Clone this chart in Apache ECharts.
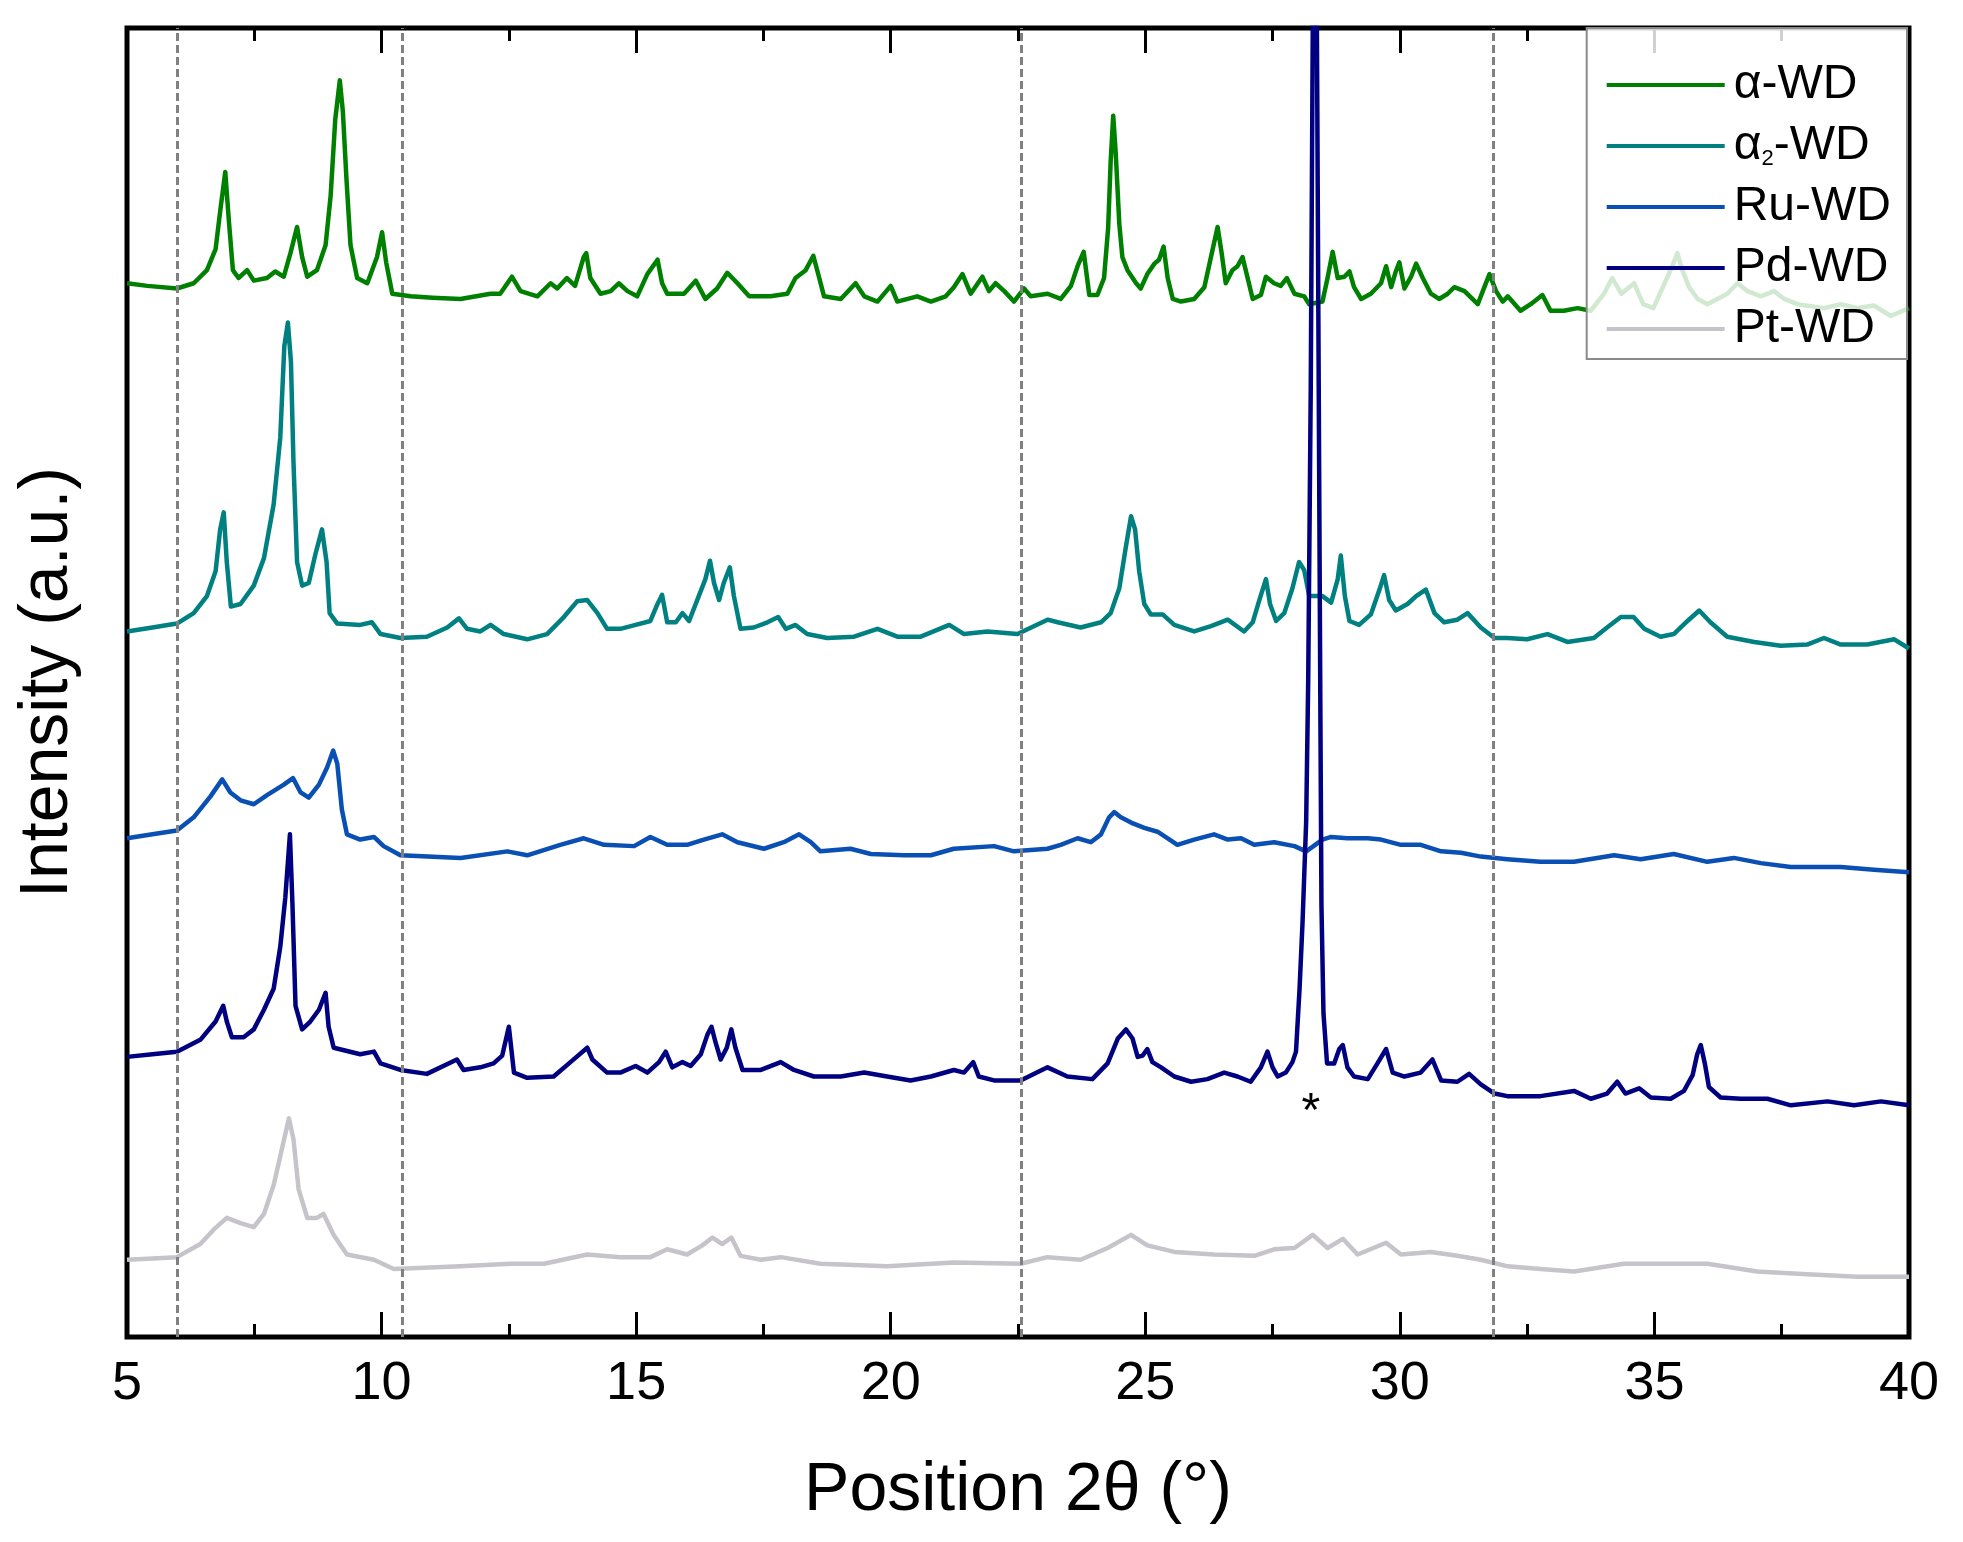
<!DOCTYPE html>
<html>
<head>
<meta charset="utf-8">
<title>XRD patterns</title>
<script src="https://cdn.jsdelivr.net/npm/echarts@6.0.0/dist/echarts.min.js"></script>
<style>
    html, body {margin: 0; padding: 0; background: #fff;}
    #chart {width: 1963px; height: 1542px;}
</style>
</head>
<body>
<div id="chart"></div>
<script>
// 2θ (deg), intensity in arbitrary units (stacked offsets, 0..100 = plot height)
var alphaWD = [
    [5.0, 80.5], [5.4, 80.3], [5.98, 80.1], [6.31, 80.5], [6.57, 81.5], [6.74, 83.1], [6.83, 86.0], [6.93, 89.0],
    [7.0, 85.3], [7.08, 81.5], [7.19, 80.9], [7.36, 81.5], [7.49, 80.7], [7.75, 80.9], [7.91, 81.4], [8.08, 81.0],
    [8.21, 82.8], [8.34, 84.8], [8.44, 82.5], [8.54, 81.0], [8.73, 81.5], [8.9, 83.4], [9.0, 87.2], [9.09, 93.0],
    [9.18, 96.0], [9.24, 93.6], [9.31, 88.5], [9.39, 83.4], [9.52, 80.9], [9.72, 80.5], [9.91, 82.5], [10.01, 84.4],
    [10.09, 82.1], [10.21, 79.7], [10.57, 79.5], [11.0, 79.4], [11.55, 79.3], [12.14, 79.7], [12.33, 79.7], [12.56, 81.0],
    [12.73, 79.9], [13.06, 79.5], [13.32, 80.5], [13.45, 80.1], [13.64, 80.9], [13.8, 80.3], [13.97, 82.5], [14.02, 82.8],
    [14.1, 80.9], [14.3, 79.7], [14.5, 79.9], [14.66, 80.5], [14.83, 79.9], [15.02, 79.5], [15.22, 81.2], [15.42, 82.3],
    [15.51, 80.5], [15.61, 79.7], [15.94, 79.7], [16.17, 80.7], [16.36, 79.3], [16.59, 80.1], [16.79, 81.3], [16.99, 80.5],
    [17.22, 79.5], [17.64, 79.5], [17.97, 79.7], [18.13, 80.9], [18.33, 81.5], [18.48, 82.6], [18.59, 81.0], [18.69, 79.5],
    [19.02, 79.3], [19.31, 80.5], [19.48, 79.5], [19.74, 79.1], [20.0, 80.3], [20.13, 79.1], [20.52, 79.5], [20.79, 79.1],
    [21.08, 79.5], [21.24, 80.2], [21.41, 81.2], [21.57, 79.7], [21.8, 81.0], [21.93, 79.9], [22.06, 80.5], [22.23, 79.9],
    [22.42, 79.1], [22.62, 80.1], [22.75, 79.5], [23.08, 79.7], [23.34, 79.3], [23.54, 80.3], [23.67, 81.8], [23.79, 82.9],
    [23.9, 79.6], [24.06, 79.6], [24.19, 80.9], [24.27, 84.7], [24.32, 89.8], [24.37, 93.3], [24.42, 90.4], [24.49, 85.0],
    [24.55, 82.5], [24.65, 81.5], [24.82, 80.5], [24.91, 80.1], [25.04, 81.2], [25.18, 82.0], [25.27, 82.3], [25.36, 83.3],
    [25.44, 80.9], [25.54, 79.3], [25.7, 79.1], [25.96, 79.3], [26.16, 80.2], [26.29, 82.5], [26.42, 84.8], [26.5, 82.8],
    [26.58, 80.5], [26.71, 81.5], [26.81, 81.8], [26.91, 82.5], [27.01, 80.9], [27.11, 79.3], [27.27, 79.6], [27.37, 81.0],
    [27.53, 80.5], [27.66, 80.3], [27.78, 80.9], [27.93, 79.7], [28.12, 79.5], [28.22, 78.9], [28.48, 79.1], [28.58, 80.9],
    [28.68, 82.9], [28.78, 80.9], [28.91, 81.0], [29.01, 81.4], [29.1, 80.2], [29.24, 79.3], [29.43, 79.7], [29.63, 80.5],
    [29.73, 81.8], [29.83, 80.2], [29.92, 81.4], [29.99, 82.1], [30.09, 80.1], [30.22, 81.0], [30.32, 82.0], [30.45, 80.9],
    [30.61, 79.7], [30.77, 79.3], [30.94, 79.7], [31.07, 80.2], [31.27, 79.9], [31.53, 78.9], [31.66, 80.2], [31.76, 81.2],
    [31.89, 79.9], [32.02, 79.1], [32.12, 79.5], [32.37, 78.4], [32.57, 78.9], [32.8, 79.6], [32.96, 78.4], [33.22, 78.4],
    [33.49, 78.6], [33.75, 78.4], [34.01, 79.7], [34.17, 80.9], [34.35, 79.7], [34.6, 80.5], [34.78, 78.9], [34.98, 78.6],
    [35.2, 80.5], [35.35, 81.8], [35.45, 82.8], [35.55, 81.5], [35.68, 80.2], [35.85, 79.3], [36.04, 78.9], [36.43, 79.7],
    [36.63, 80.5], [36.83, 79.9], [37.09, 79.5], [37.35, 79.9], [37.55, 79.3], [37.81, 78.9], [38.33, 78.6], [38.66, 78.9],
    [38.99, 78.6], [39.31, 78.8], [39.64, 78.0], [40.0, 78.6]
];

var alpha2WD = [
    [5.0, 53.9], [5.5, 54.2], [5.98, 54.5], [6.31, 55.3], [6.57, 56.6], [6.74, 58.5], [6.83, 61.7], [6.9, 63.0],
    [6.96, 59.2], [7.04, 55.8], [7.23, 56.0], [7.49, 57.4], [7.69, 59.5], [7.88, 63.6], [8.01, 68.7], [8.09, 75.7],
    [8.16, 77.5], [8.22, 74.5], [8.27, 66.8], [8.34, 59.2], [8.44, 57.4], [8.57, 57.6], [8.7, 59.8], [8.83, 61.7],
    [8.92, 59.2], [8.98, 55.3], [9.13, 54.5], [9.58, 54.4], [9.81, 54.6], [9.98, 53.7], [10.37, 53.4], [10.89, 53.5],
    [11.29, 54.2], [11.52, 54.9], [11.68, 54.1], [11.94, 53.9], [12.14, 54.4], [12.4, 53.7], [12.86, 53.3], [13.25, 53.7],
    [13.58, 55.0], [13.84, 56.2], [14.04, 56.3], [14.24, 55.3], [14.43, 54.1], [14.69, 54.1], [14.99, 54.4], [15.28, 54.7],
    [15.42, 56.0], [15.51, 56.7], [15.61, 54.6], [15.78, 54.6], [15.91, 55.3], [16.04, 54.7], [16.23, 56.6], [16.36, 57.9],
    [16.45, 59.3], [16.53, 57.6], [16.63, 56.3], [16.72, 57.6], [16.84, 58.8], [16.92, 56.6], [17.05, 54.1], [17.31, 54.2],
    [17.58, 54.6], [17.79, 55.0], [17.94, 54.1], [18.13, 54.4], [18.36, 53.7], [18.75, 53.4], [19.28, 53.5], [19.74, 54.1],
    [20.13, 53.5], [20.59, 53.5], [21.15, 54.4], [21.44, 53.7], [21.9, 53.9], [22.49, 53.7], [23.08, 54.8], [23.28, 54.6],
    [23.73, 54.2], [24.13, 54.6], [24.32, 55.3], [24.49, 57.2], [24.62, 60.4], [24.72, 62.7], [24.8, 61.7], [24.88, 58.5],
    [24.98, 56.0], [25.11, 55.2], [25.34, 55.2], [25.57, 54.4], [25.96, 53.9], [26.29, 54.3], [26.62, 54.8], [26.94, 53.9],
    [27.11, 54.6], [27.24, 56.3], [27.37, 57.9], [27.45, 56.0], [27.57, 54.7], [27.73, 55.3], [27.89, 57.2], [28.02, 59.2],
    [28.12, 58.6], [28.22, 56.6], [28.48, 56.6], [28.65, 56.1], [28.78, 57.9], [28.84, 59.7], [28.92, 56.6], [29.01, 54.7],
    [29.2, 54.4], [29.43, 55.2], [29.6, 57.1], [29.69, 58.2], [29.79, 56.3], [29.92, 55.5], [30.15, 56.0], [30.32, 56.6],
    [30.51, 57.1], [30.68, 55.3], [30.87, 54.6], [31.13, 54.8], [31.33, 55.3], [31.59, 54.2], [31.86, 53.4], [32.11, 53.4],
    [32.5, 53.3], [32.9, 53.7], [33.29, 53.1], [33.81, 53.4], [34.07, 54.2], [34.34, 55.0], [34.59, 55.0], [34.8, 54.1],
    [35.12, 53.5], [35.38, 53.7], [35.65, 54.7], [35.88, 55.5], [36.1, 54.6], [36.43, 53.5], [36.96, 53.1], [37.48, 52.8],
    [38.0, 52.9], [38.33, 53.4], [38.66, 52.9], [39.18, 52.9], [39.71, 53.3], [40.0, 52.6]
];

var ruWD = [
    [5.0, 38.1], [5.5, 38.4], [5.98, 38.7], [6.31, 39.7], [6.64, 41.3], [6.87, 42.6], [7.03, 41.6], [7.23, 41.0],
    [7.49, 40.7], [7.75, 41.4], [8.08, 42.2], [8.26, 42.7], [8.41, 41.6], [8.57, 41.2], [8.77, 42.2], [8.93, 43.5],
    [9.05, 44.8], [9.13, 43.8], [9.22, 40.3], [9.32, 38.4], [9.58, 38.0], [9.85, 38.2], [10.04, 37.5], [10.37, 36.8],
    [11.55, 36.6], [12.47, 37.1], [12.86, 36.8], [13.51, 37.6], [13.97, 38.1], [14.37, 37.6], [14.96, 37.5], [15.28, 38.2],
    [15.61, 37.6], [16.0, 37.6], [16.33, 38.0], [16.69, 38.4], [16.99, 37.8], [17.51, 37.3], [17.9, 37.8], [18.2, 38.4],
    [18.43, 37.8], [18.62, 37.1], [19.21, 37.3], [19.61, 36.9], [20.26, 36.8], [20.79, 36.8], [21.24, 37.3], [22.03, 37.5],
    [22.42, 37.1], [23.08, 37.3], [23.34, 37.6], [23.67, 38.1], [23.93, 37.8], [24.13, 38.4], [24.29, 39.7], [24.39, 40.1],
    [24.52, 39.7], [24.72, 39.3], [24.98, 38.9], [25.24, 38.6], [25.44, 38.1], [25.63, 37.6], [25.96, 38.0], [26.35, 38.4],
    [26.62, 38.0], [26.88, 38.1], [27.14, 37.6], [27.53, 37.8], [27.93, 37.5], [28.16, 37.1], [28.48, 38.0], [28.65, 38.2],
    [28.97, 38.1], [29.37, 38.1], [29.63, 38.0], [30.02, 37.6], [30.41, 37.6], [30.81, 37.1], [31.2, 37.0], [31.59, 36.7],
    [32.11, 36.5], [32.76, 36.3], [33.42, 36.3], [34.21, 36.8], [34.73, 36.5], [35.38, 36.9], [36.04, 36.3], [36.56, 36.6],
    [37.09, 36.2], [37.68, 35.9], [38.66, 35.9], [39.31, 35.7], [40.0, 35.5]
];

var pdWD = [
    [5.0, 21.4], [5.5, 21.6], [5.98, 21.8], [6.44, 22.7], [6.74, 24.1], [6.89, 25.3], [6.96, 24.1], [7.06, 22.9],
    [7.29, 22.9], [7.49, 23.5], [7.69, 25.0], [7.88, 26.6], [8.01, 29.8], [8.11, 33.6], [8.2, 38.4], [8.25, 33.0],
    [8.31, 25.3], [8.44, 23.5], [8.6, 24.1], [8.77, 25.0], [8.9, 26.3], [8.96, 23.7], [9.06, 22.1], [9.58, 21.6],
    [9.85, 21.8], [9.98, 20.9], [10.37, 20.4], [10.89, 20.1], [11.48, 21.2], [11.61, 20.4], [11.94, 20.6], [12.2, 20.9],
    [12.37, 21.5], [12.5, 23.7], [12.6, 20.2], [12.86, 19.8], [13.38, 19.9], [13.71, 21.0], [14.04, 22.1], [14.14, 21.2],
    [14.43, 20.2], [14.69, 20.2], [14.99, 20.7], [15.22, 20.2], [15.45, 21.0], [15.58, 21.8], [15.71, 20.6], [15.91, 21.0],
    [16.07, 20.7], [16.27, 21.6], [16.4, 23.1], [16.48, 23.7], [16.56, 22.5], [16.66, 21.2], [16.78, 22.1], [16.87, 23.5],
    [16.95, 22.1], [17.09, 20.4], [17.45, 20.4], [17.84, 21.0], [18.1, 20.4], [18.49, 19.9], [19.02, 19.9], [19.48, 20.2],
    [19.93, 19.9], [20.39, 19.6], [20.79, 19.9], [21.24, 20.4], [21.44, 20.2], [21.62, 21.0], [21.73, 19.9], [22.03, 19.6],
    [22.55, 19.6], [23.08, 20.6], [23.47, 19.9], [23.96, 19.7], [24.26, 20.9], [24.46, 22.8], [24.62, 23.5], [24.75, 22.8],
    [24.85, 21.4], [24.95, 21.5], [25.04, 22.0], [25.14, 21.0], [25.31, 20.6], [25.57, 19.9], [25.9, 19.5], [26.22, 19.7],
    [26.55, 20.2], [26.81, 19.9], [27.07, 19.5], [27.27, 20.6], [27.4, 21.8], [27.5, 20.6], [27.6, 19.9], [27.76, 20.2],
    [27.89, 21.0], [27.96, 21.8], [28.03, 26.6], [28.09, 31.8], [28.16, 39.4], [28.2, 50.2], [28.25, 72.6], [28.29, 100.5],
    [28.33, 130], [28.37, 100.5], [28.44, 47.0], [28.46, 33.0], [28.5, 24.7], [28.57, 20.9], [28.71, 20.9], [28.81, 22.0],
    [28.88, 22.3], [28.97, 20.6], [29.1, 19.9], [29.37, 19.7], [29.56, 20.9], [29.73, 22.0], [29.86, 20.2], [30.09, 19.9],
    [30.41, 20.2], [30.64, 21.2], [30.81, 19.6], [31.13, 19.5], [31.36, 20.1], [31.59, 19.3], [31.86, 18.6], [32.11, 18.4],
    [32.76, 18.4], [33.42, 18.8], [33.75, 18.2], [34.07, 18.6], [34.27, 19.5], [34.43, 18.6], [34.7, 19.0], [34.93, 18.3],
    [35.32, 18.2], [35.58, 18.8], [35.75, 20.0], [35.84, 21.6], [35.91, 22.3], [35.99, 20.9], [36.07, 19.1], [36.3, 18.3],
    [36.69, 18.2], [37.22, 18.2], [37.68, 17.7], [38.4, 18.0], [38.92, 17.7], [39.45, 18.0], [40.0, 17.7]
];

var ptWD = [
    [5.0, 5.9], [5.5, 6.0], [5.98, 6.1], [6.44, 7.1], [6.7, 8.2], [6.96, 9.1], [7.23, 8.7], [7.49, 8.4],
    [7.69, 9.4], [7.88, 11.6], [8.05, 14.5], [8.18, 16.7], [8.27, 15.1], [8.37, 11.3], [8.54, 9.1], [8.73, 9.1],
    [8.86, 9.4], [9.06, 7.8], [9.32, 6.3], [9.85, 5.9], [10.24, 5.2], [11.55, 5.4], [12.53, 5.6], [13.19, 5.6],
    [14.04, 6.3], [14.69, 6.1], [15.28, 6.1], [15.61, 6.7], [16.0, 6.3], [16.3, 7.0], [16.5, 7.6], [16.69, 7.1],
    [16.87, 7.6], [17.05, 6.2], [17.45, 5.9], [17.84, 6.1], [18.62, 5.6], [19.93, 5.4], [21.24, 5.7], [22.55, 5.6],
    [23.08, 6.1], [23.73, 5.9], [24.26, 6.8], [24.72, 7.8], [25.04, 7.0], [25.57, 6.5], [26.35, 6.3], [27.14, 6.2],
    [27.53, 6.7], [27.93, 6.8], [28.29, 7.8], [28.58, 6.8], [28.88, 7.5], [29.17, 6.3], [29.73, 7.2], [30.02, 6.3],
    [30.61, 6.5], [31.13, 6.2], [31.59, 5.9], [32.12, 5.4], [32.76, 5.2], [33.42, 5.0], [34.4, 5.6], [35.19, 5.6],
    [36.04, 5.6], [37.02, 5.0], [38.0, 4.8], [38.99, 4.6], [40.0, 4.6]
];

var seriesNames = ['α-WD', 'α2-WD', 'Ru-WD', 'Pd-WD', 'Pt-WD'];
var seriesColors = ['#008000', '#008080', '#0a50b4', '#000080', '#c6c3cb'];
var refLines = [5.98, 10.41, 22.57, 31.84];   // dashed guides
var starMark = [28.25, 17.1];                 // "*" under the Pd reflection
var xTicks = [5, 10, 15, 20, 25, 30, 35, 40];

var FONT = 'Liberation Sans, Arial, Helvetica, sans-serif';
var myChart = echarts.init(document.getElementById('chart'), null, {renderer: 'canvas'});

var allData = [alphaWD, alpha2WD, ruWD, pdWD, ptWD];
var series = allData.map(function (d, i) {
    var s = {
        name: seriesNames[i],
        type: 'line',
        data: d,
        showSymbol: false,
        symbol: 'none',
        clip: true,
        lineStyle: {color: seriesColors[i], width: 4.5, join: 'round'},
        itemStyle: {color: seriesColors[i]},
        z: 2
    };
    if (seriesNames[i] === 'Pd-WD') {
        s.markPoint = {
            silent: true,
            symbol: 'circle',
            symbolSize: 1,
            itemStyle: {color: 'rgba(0,0,0,0)'},
            label: {show: true, formatter: '*', position: 'inside', color: '#000', fontSize: 48, fontFamily: FONT},
            data: [{coord: starMark}]
        };
    }
    return s;
});

// dashed guide lines drawn on top of the patterns
series.push({
    name: 'guides',
    type: 'line',
    data: [],
    z: 5,
    markLine: {
        silent: true,
        symbol: ['none', 'none'],
        label: {show: false},
        lineStyle: {color: '#808080', width: 3, type: [8, 4]},
        data: refLines.map(function (v) { return {xAxis: v}; })
    }
});

var tickCommon = {
    min: xTicks[0],
    max: xTicks[xTicks.length - 1],
    interval: 5,
    type: 'value',
    splitLine: {show: false},
    axisLine: {show: false},
    axisTick: {show: true, inside: true, length: 25, lineStyle: {color: '#000', width: 3}},
    minorTick: {show: true, splitNumber: 2, length: 13, lineStyle: {color: '#000', width: 3}},
    minorSplitLine: {show: false}
};

var option = {
    backgroundColor: '#fff',
    animation: false,
    grid: {
        left: 127, right: 54, top: 28, bottom: 205,
        show: true,
        borderColor: '#000',
        borderWidth: 5,
        backgroundColor: 'rgba(0,0,0,0)',
        outerBoundsMode: 'none'
    },
    legend: {
        data: seriesNames.map(function (n) { return {name: n, icon: 'rect'}; }),
        orient: 'vertical',
        right: 56,
        top: 28,
        itemWidth: 118,
        itemHeight: 4,
        itemGap: 13,
        padding: [33, 16, 6, 20],
        backgroundColor: 'rgba(255,255,255,0.82)',
        borderColor: '#8a8a8a',
        borderWidth: 2,
        borderRadius: 0,
        selectedMode: false,
        z: 10,
        formatter: function (name) {
            if (name === 'α2-WD') {
                return '{t|α}{s|2}{t|-WD}';
            }
            return '{t|' + name + '}';
        },
        textStyle: {
            color: '#000',
            fontFamily: FONT,
            fontSize: 48,
            padding: [0, 0, 0, 4],
            rich: {
                t: {fontSize: 48, fontFamily: FONT, color: '#000', lineHeight: 48},
                s: {fontSize: 22, fontFamily: FONT, color: '#000', verticalAlign: 'bottom', lineHeight: 48}
            }
        }
    },
    xAxis: [
        Object.assign({}, tickCommon, {
            position: 'bottom',
            name: 'Position 2θ (°)',
            nameLocation: 'middle',
            nameGap: 120,
            nameTextStyle: {fontFamily: FONT, fontSize: 68, color: '#000'},
            axisLabel: {show: true, margin: 20, fontFamily: FONT, fontSize: 54, color: '#000'}
        }),
        Object.assign({}, tickCommon, {
            position: 'top',
            axisLabel: {show: false}
        })
    ],
    yAxis: {
        type: 'value',
        min: 0,
        max: 100,
        name: 'Intensity (a.u.)',
        nameLocation: 'middle',
        nameGap: 45,
        nameTextStyle: {fontFamily: FONT, fontSize: 68, color: '#000'},
        axisLine: {show: false},
        axisTick: {show: false},
        axisLabel: {show: false},
        splitLine: {show: false}
    },
    series: series
};

myChart.setOption(option);
</script>
</body>
</html>
